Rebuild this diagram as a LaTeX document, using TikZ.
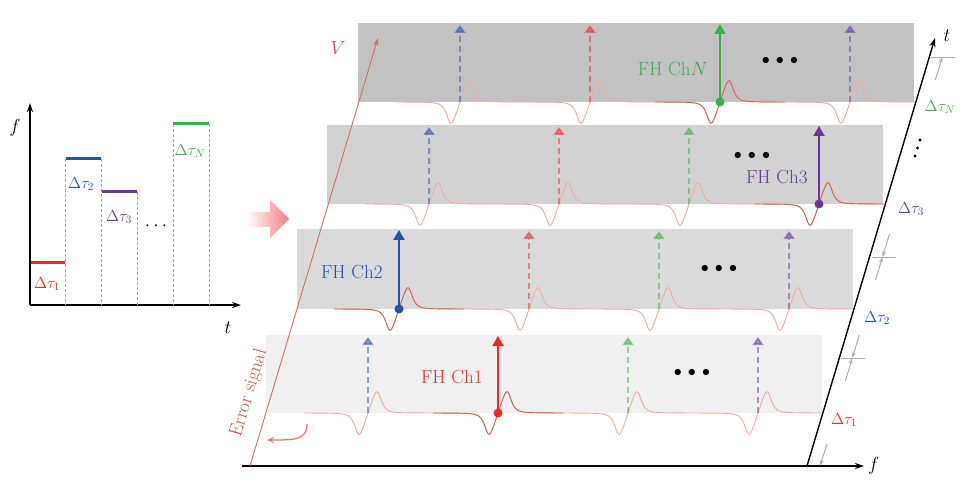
\RequirePackage{fix-cm}
\documentclass[tikz,border=0pt]{standalone}
\usetikzlibrary{arrows.meta,calc}
\definecolor{chred}{RGB}{232,45,40}
\definecolor{chblue}{RGB}{40,80,170}
\definecolor{chgreen}{RGB}{60,175,75}
\definecolor{chpurple}{RGB}{105,55,155}
\definecolor{sigpale}{RGB}{238,172,158}
\definecolor{sigred}{RGB}{205,105,85}
\definecolor{vred}{RGB}{195,90,70}
\definecolor{arrpink}{RGB}{242,125,125}
\begin{document}
\begin{tikzpicture}[x=1pt,y=-1pt,
 declare function={es(\t)=31*\t/(1+\t*\t*\t*\t*\t*\t)+5*\t/((1+\t*\t)*(1+\t*\t));},
 lbl/.style={font=\fontsize{19}{22}\selectfont},
 dlbl/.style={font=\fontsize{16}{19}\selectfont},
 ax/.style={line width=1.4pt,-{Stealth[length=9pt,width=6pt]}},
 lvl/.style={line width=3pt},
 guide/.style={gray!70,line width=.9pt,dash pattern=on 3pt off 2pt},
 sigline/.style={sigpale,line width=.9pt},
 sigdark/.style={sigred,line width=.9pt},
 chsolid/.style={line width=2pt,draw=#1,-{Triangle[length=10pt,width=11pt]}},
 chdash/.style={line width=1.8pt,draw=#1,opacity=.5,dash pattern=on 6pt off 4pt,-{Triangle[length=8pt,width=11pt]}},
 tick/.style={gray!65,line width=1pt},
 dim/.style={gray!65,line width=1pt,-{Stealth[length=6pt,width=4pt]}}]
 \useasboundingbox (0,0) rectangle (968,486);
 % left: frequency steps
 \draw[ax] (30,305) -- (30,103);
 \draw[ax] (30,305) -- (241,305);
 \draw[guide] (65,159)--(65,305) (101,159)--(101,305) (137,192)--(137,305)
  (173,124)--(173,305) (209,124)--(209,305);
 \draw[lvl,chred] (31,262) -- (65,262);
 \draw[lvl,chblue] (66,159) -- (101,159);
 \draw[lvl,chpurple] (102,192) -- (137,192);
 \draw[lvl,chgreen] (173,124) -- (209,124);
 \path
 (15,128) node[lbl] (fL) {$f$}
 (228,328) node[lbl] (tL) {$t$}
 (47,284) node[dlbl,chred] (d1L) {$\Delta\tau_1$}
 (81,184) node[dlbl,chblue] (d2L) {$\Delta\tau_2$}
 (119,217) node[dlbl,chpurple] (d3L) {$\Delta\tau_3$}
 (156,226) node[lbl] (dotsL) {$\cdots$}
 (190,151) node[dlbl,chgreen] (dNL) {$\Delta\tau_N$};
 % big arrow
 \shade[left color=white,right color=arrpink]
 (246,212) -- (270,212) -- (270,200) -- (289,219) -- (270,238) -- (270,227) -- (246,227) -- cycle;
 % panels, error signals and channels
 \foreach \pl/\pt/\pb/\pc/\act in {266/335/413/12/1,297/229/309/29/0,327/125/204/35/3,358/23/102/48/2}{
  \fill[gray!\pc] (\pl,\pt) rectangle (\pl+556,\pb);
  \draw[sigline] (\pl+38,\pb)
   \foreach \j in {0,...,3}{ -- plot[domain=\pl+52+130*\j:\pl+152+130*\j,samples=101]
    (\x,{\pb-es((\x-\pl-102-130*\j)/11.8)}) } -- (\pl+556,\pb);
  \pgfmathsetmacro\xa{\pl+102+130*\act}
  \draw[sigdark] (\xa-65,\pb) -- plot[domain=\xa-50:\xa+50,samples=101]
   (\x,{\pb-es((\x-\xa)/11.8)}) -- (\xa+65,\pb);
  \foreach \j/\cc in {0/chblue,1/chred,2/chgreen,3/chpurple}{
   \pgfmathsetmacro\xc{\pl+102+130*\j}
   \ifnum\j=\act
    \draw[chsolid=\cc] (\xc,\pb) -- (\xc,\pt+1);
    \fill[\cc] (\xc,\pb) circle (4.5);
   \else
    \draw[chdash=\cc] (\xc,\pb) -- (\xc,\pt+2);
   \fi
  }
 }
 \path
 (486,377) node[lbl,chred,anchor=east] (ch1) {FH Ch1}
 (386,272) node[lbl,chblue,anchor=east] (ch2) {FH Ch2}
 (811,177) node[lbl,chpurple,anchor=east] (ch3) {FH Ch3}
 (711,69) node[lbl,chgreen,anchor=east] (chN) {FH Ch$N$}
 (692,373) node[dlbl] (el1) {$\bullet\,\bullet\,\bullet$}
 (719,269) node[dlbl] (el2) {$\bullet\,\bullet\,\bullet$}
 (752,156) node[dlbl] (el3) {$\bullet\,\bullet\,\bullet$}
 (780,61) node[dlbl] (elN) {$\bullet\,\bullet\,\bullet$};
 % axes
 \coordinate (O) at (807,466);
 \coordinate (T) at (935,38);
 \coordinate (V0) at (250,466);
 \coordinate (V1) at (378,38);
 \draw[ax] (242,466) -- (864,466) node[lbl,right] (fR) {$f$};
 \draw[ax] (O) -- (T);
 \draw[vred!85,line width=.9pt,-{Stealth[length=8pt,width=5pt]}] (V0) -- (V1);
 \path
 (947,36) node[lbl] (tR) {$t$}
 (338,48) node[lbl,vred] (vL) {$V$}
 (249,393) node[lbl,vred,rotate=73.3] (errL) {Error signal};
 \draw[line width=1.3pt,chred!65,-{Stealth[length=7pt,width=6pt]}]
 (307,424) .. controls (307,440) and (295,440) .. (267,440);
 % time intervals on t axis
 \foreach \fr/\nm in {0.2523/k1,0.4883/k2,0.9556/kN}
  \coordinate (\nm) at ($(O)!\fr!(T)$);
 \foreach \nm in {k1,k2,kN}
  \draw[tick] ($(\nm)+(2,0)$) -- ($(\nm)+(26,0)$);
 \draw[dim] ($(O)+(20,-22)$) -- ($(O)+(13,0)$);
 \draw[dim] ($(k1)+(6,23)$) -- ($(k1)+(13,0)$);
 \draw[dim] ($(k1)+(20,-23)$) -- ($(k1)+(13,0)$);
 \draw[dim] ($(k2)+(6,23)$) -- ($(k2)+(13,0)$);
 \draw[dim] ($(k2)+(20,-23)$) -- ($(k2)+(13,0)$);
 \draw[dim] ($(kN)+(6,23)$) -- ($(kN)+(13,0)$);
 \fill (920,140) circle (1.7) (917.5,148) circle (1.7) (915,156) circle (1.7);
 \path
 (844,420) node[dlbl,chred] (d1R) {$\Delta\tau_1$}
 (877,318) node[dlbl,chblue] (d2R) {$\Delta\tau_2$}
 (911,209) node[dlbl,chpurple] (d3R) {$\Delta\tau_3$}
 (940,107) node[dlbl,chgreen] (dNR) {$\Delta\tau_N$};
\end{tikzpicture}
\end{document}
